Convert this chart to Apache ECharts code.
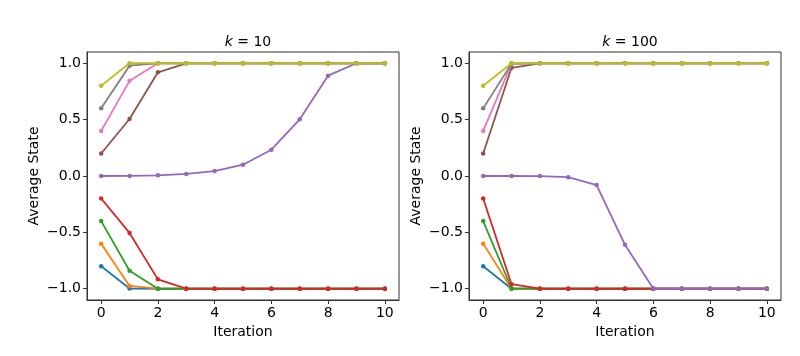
<!DOCTYPE html>
<html>
<head>
<meta charset="utf-8">
<script src="https://cdn.jsdelivr.net/npm/echarts@6/dist/echarts.min.js"></script>
<style>
html,body{margin:0;padding:0;background:#fff;}
#chart{width:800px;height:356px;}
</style>
</head>
<body>
<div id="chart"></div>
<script>
const iterations = [0,1,2,3,4,5,6,7,8,9,10];
const xTicks = [0,2,4,6,8,10];
const yTicks = [-1,-0.5,0,0.5,1];
const titles = ['k = 10', 'k = 100'];
const colors = ['#1f77b4','#ff7f0e','#2ca02c','#d62728','#9467bd','#8c564b','#e377c2','#7f7f7f','#bcbd22'];

// k = 10
const k10_blue   = [-0.8,-0.998,-1,-1,-1,-1,-1,-1,-1,-1,-1];
const k10_orange = [-0.6,-0.975,-1,-1,-1,-1,-1,-1,-1,-1,-1];
const k10_green  = [-0.4,-0.84,-1,-1,-1,-1,-1,-1,-1,-1,-1];
const k10_red    = [-0.2,-0.505,-0.917,-1,-1,-1,-1,-1,-1,-1,-1];
const k10_purple = [0,0.001,0.006,0.018,0.044,0.1,0.233,0.503,0.89,1,1];
const k10_brown  = [0.2,0.506,0.92,1,1,1,1,1,1,1,1];
const k10_pink   = [0.4,0.844,1,1,1,1,1,1,1,1,1];
const k10_gray   = [0.6,0.979,1,1,1,1,1,1,1,1,1];
const k10_olive  = [0.8,1,1,1,1,1,1,1,1,1,1];

// k = 100
const k100_blue   = [-0.8,-1,-1,-1,-1,-1,-1,-1,-1,-1,-1];
const k100_orange = [-0.6,-1,-1,-1,-1,-1,-1,-1,-1,-1,-1];
const k100_green  = [-0.4,-0.998,-1,-1,-1,-1,-1,-1,-1,-1,-1];
const k100_red    = [-0.2,-0.96,-1,-1,-1,-1,-1,-1,-1,-1,-1];
const k100_purple = [0,0,-0.001,-0.01,-0.08,-0.61,-1,-1,-1,-1,-1];
const k100_brown  = [0.2,0.96,1,1,1,1,1,1,1,1,1];
const k100_pink   = [0.4,0.995,1,1,1,1,1,1,1,1,1];
const k100_gray   = [0.6,0.997,1,1,1,1,1,1,1,1,1];
const k100_olive  = [0.8,1,1,1,1,1,1,1,1,1,1];

const k10Series = [k10_blue,k10_orange,k10_green,k10_red,k10_purple,k10_brown,k10_pink,k10_gray,k10_olive];
const k100Series = [k100_blue,k100_orange,k100_green,k100_red,k100_purple,k100_brown,k100_pink,k100_gray,k100_olive];

const FONT = 'DejaVu Sans';
const axisColor = '#333';
function fmtY(v){ return (v < 0 ? '\u2212' : '') + Math.abs(v).toFixed(1); }

const grids = [
  {left: 87, right: 401, top: 52, bottom: 56},
  {left: 469, right: 19, top: 52, bottom: 56}
];

const xAxes = grids.map((g, i) => ({
  type: 'value', gridIndex: i, min: -0.5, max: 10.5,
  name: 'Iteration', nameLocation: 'middle', nameGap: 23,
  nameTextStyle: {fontFamily: FONT, fontSize: 14, color: '#000'},
  axisLine: {show: true, onZero: false, lineStyle: {color: axisColor, width: 1}},
  axisTick: {show: true, length: 4, inside: false, customValues: xTicks, lineStyle: {color: axisColor}},
  axisLabel: {show: true, customValues: xTicks, fontFamily: FONT, fontSize: 14, color: '#000', margin: 6},
  splitLine: {show: false}
}));

const yAxes = grids.map((g, i) => ({
  type: 'value', gridIndex: i, min: -1.1, max: 1.1,
  name: 'Average State', nameLocation: 'middle', nameGap: 46, nameRotate: 90,
  nameTextStyle: {fontFamily: FONT, fontSize: 14, color: '#000'},
  axisLine: {show: true, onZero: false, lineStyle: {color: axisColor, width: 1}},
  axisTick: {show: true, length: 4, inside: false, customValues: yTicks, lineStyle: {color: axisColor}},
  axisLabel: {show: true, customValues: yTicks, formatter: fmtY, fontFamily: FONT, fontSize: 14, color: '#000', margin: 6},
  splitLine: {show: false}
}));

function makeSeries(list, idx){
  return list.map((arr, j) => ({
    type: 'line', xAxisIndex: idx, yAxisIndex: idx,
    data: iterations.map((x, t) => [x, arr[t]]),
    symbol: 'circle', symbolSize: 4.5, showSymbol: true,
    lineStyle: {color: colors[j], width: 1.8},
    itemStyle: {color: colors[j]},
    z: 2 + j, animation: false
  }));
}

const option = {
  animation: false,
  backgroundColor: '#fff',
  title: titles.map((t, i) => ({
    text: '{i|k} = ' + t.split('= ')[1],
    left: i === 0 ? 243 : 625, top: 30, textAlign: 'center',
    textStyle: {fontFamily: FONT, fontSize: 14, fontWeight: 'normal', color: '#000',
      rich: {i: {fontFamily: FONT, fontSize: 14, fontStyle: 'italic', color: '#000'}}}
  })),
  grid: grids.map(g => Object.assign({show: true, borderColor: axisColor, borderWidth: 1, backgroundColor: 'transparent'}, g)),
  xAxis: xAxes,
  yAxis: yAxes,
  series: makeSeries(k10Series, 0).concat(makeSeries(k100Series, 1))
};

const chart = echarts.init(document.getElementById('chart'), null, {renderer: 'canvas'});
chart.setOption(option);
</script>
</body>
</html>
